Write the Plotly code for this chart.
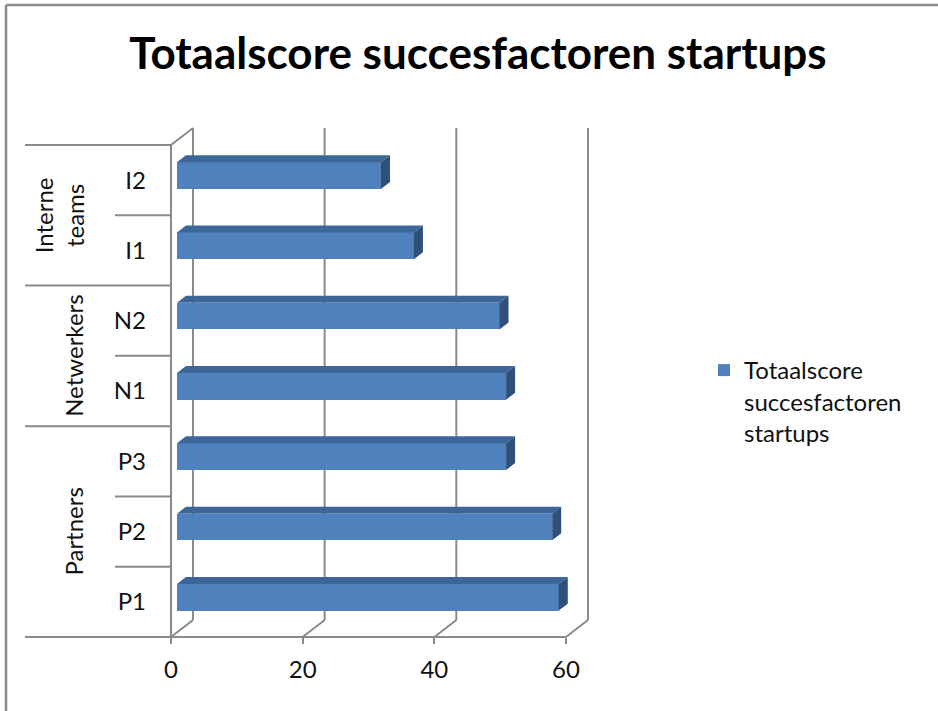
import plotly.graph_objects as go

# ---------------- data ----------------
categories = ["P1", "P2", "P3", "N1", "N2", "I1", "I2"]
values = [58, 57, 50, 50, 49, 36, 31]
groups = ["Partners", "Netwerkers", "Interne<br>teams"]
group_sizes = [3, 2, 2]
x_ticks = [0, 20, 40, 60]
series_name = "Totaalscore<br>succesfactoren<br>startups"
title_text = "Totaalscore succesfactoren startups"

# ---------------- geometry / style ----------------
W, H = 938, 711
L, R, T, B = 171, 347, 128, 74
PW, PH = W - L - R, H - T - B
XR = [0, 63.8]
YR = [-0.5, 6.742]
DX, DY = 3.34, 0.242          # wall depth in data units
BD0, BD1 = 0.27, 0.68         # bar depth fraction (front, back)
BAR_W = 0.38
GRAY = "#8a8a8a"
FRONT = "#4F81BD"
TOP = "#3D6698"
SIDE = "#2F5079"
FONT = "Lato"
FS = 24

n = len(categories)
ypos = list(range(n))


def xp(v):  # data x -> paper
    return (v - XR[0]) / (XR[1] - XR[0])


def yp(v):  # data y -> paper
    return (v - YR[0]) / (YR[1] - YR[0])


def pix_x(p):  # pixel x -> paper
    return (p - L) / PW


def pix_y(p):  # pixel y -> paper
    return (H - B - p) / PH


shapes = []


def pline(x0, y0, x1, y1, color=GRAY, w=2, layer="below"):
    shapes.append(dict(type="line", xref="paper", yref="paper",
                       x0=x0, y0=y0, x1=x1, y1=y1, layer=layer,
                       line=dict(color=color, width=w)))


ytop = YR[0] + n  # front top edge
xmax = x_ticks[-1]

# floor front edge + label column bottom line
pline(pix_x(25), yp(YR[0]), xp(xmax), yp(YR[0]))
# left wall
pline(xp(0), yp(YR[0]), xp(0), yp(ytop))
pline(xp(0), yp(ytop), xp(DX), yp(ytop + DY))
# back wall verticals and floor diagonals
for t in x_ticks:
    pline(xp(t + DX), yp(YR[0] + DY), xp(t + DX), yp(ytop + DY))
    pline(xp(t), yp(YR[0]), xp(t + DX), yp(YR[0] + DY))

# label separators
b = YR[0]
for gsz in group_sizes:
    for k in range(1, gsz):
        pline(pix_x(115), yp(b + k), xp(0), yp(b + k))
    b += gsz
    pline(pix_x(25), yp(b), xp(0), yp(b))

# outer border (top & left)
pline(pix_x(6), pix_y(5), pix_x(W + 5), pix_y(5), color="#8c8c8c", w=2.5)
pline(pix_x(6), pix_y(5), pix_x(6), pix_y(H + 5), color="#8c8c8c", w=2.5)

# bar 3-D faces
base = BD0 * DX
off = -BAR_W / 2 + BD0 * DY
bdx, bdy = (BD1 - BD0) * DX, (BD1 - BD0) * DY
for i, v in zip(ypos, values):
    x0, x1 = base, base + v
    y0, y1 = i + off, i + off + BAR_W
    shapes.append(dict(type="path", xref="x", yref="y", layer="above",
                       path=f"M{x0},{y1} L{x1},{y1} L{x1+bdx},{y1+bdy} L{x0+bdx},{y1+bdy} Z",
                       fillcolor=TOP, line=dict(width=0)))
    shapes.append(dict(type="path", xref="x", yref="y", layer="above",
                       path=f"M{x1},{y0} L{x1},{y1} L{x1+bdx},{y1+bdy} L{x1+bdx},{y0+bdy} Z",
                       fillcolor=SIDE, line=dict(width=0)))

fig = go.Figure()
fig.add_trace(go.Bar(
    x=values, y=ypos, base=[base] * n, orientation="h",
    width=BAR_W, offset=off, name=series_name,
    marker=dict(color=FRONT, line=dict(width=0)),
    showlegend=True,
))

# group labels
annotations = []
b = YR[0]
for g, gsz in zip(groups, group_sizes):
    cx = 59 if "<br>" in g else 74
    annotations.append(dict(
        xref="paper", yref="paper", x=pix_x(cx), y=yp(b + gsz / 2),
        text=g, textangle=-90, showarrow=False,
        xanchor="center", yanchor="middle",
        font=dict(family=FONT, size=FS, color="#111111"),
    ))
    b += gsz

fig.update_layout(
    width=W, height=H,
    margin=dict(l=L, r=R, t=T, b=B),
    paper_bgcolor="white", plot_bgcolor="rgba(0,0,0,0)",
    title=dict(text=title_text, xref="container", yref="container",
               x=478 / W, y=1 - 54 / H, xanchor="center", yanchor="middle",
               font=dict(family=FONT, size=44, color="black", weight="bold")),
    xaxis=dict(range=XR, tickvals=x_ticks, ticktext=[str(t) for t in x_ticks],
               showgrid=False, zeroline=False, showline=False,
               ticks="outside", ticklen=6, tickwidth=2, tickcolor=GRAY,
               tickfont=dict(family=FONT, size=FS, color="#111111"),
               ticklabelstandoff=5, fixedrange=True),
    yaxis=dict(range=YR, tickvals=ypos, ticktext=categories,
               showgrid=False, zeroline=False, showline=False, ticks="",
               tickfont=dict(family=FONT, size=FS, color="#111111"),
               ticklabelstandoff=24, fixedrange=True),
    legend=dict(x=pix_x(704), y=pix_y(348), xanchor="left", yanchor="top",
                valign="top", font=dict(family=FONT, size=FS, color="#111111"),
                bgcolor="rgba(0,0,0,0)", borderwidth=0),
    shapes=shapes,
    annotations=annotations,
    bargap=0,
)

fig.write_html("out.html")
